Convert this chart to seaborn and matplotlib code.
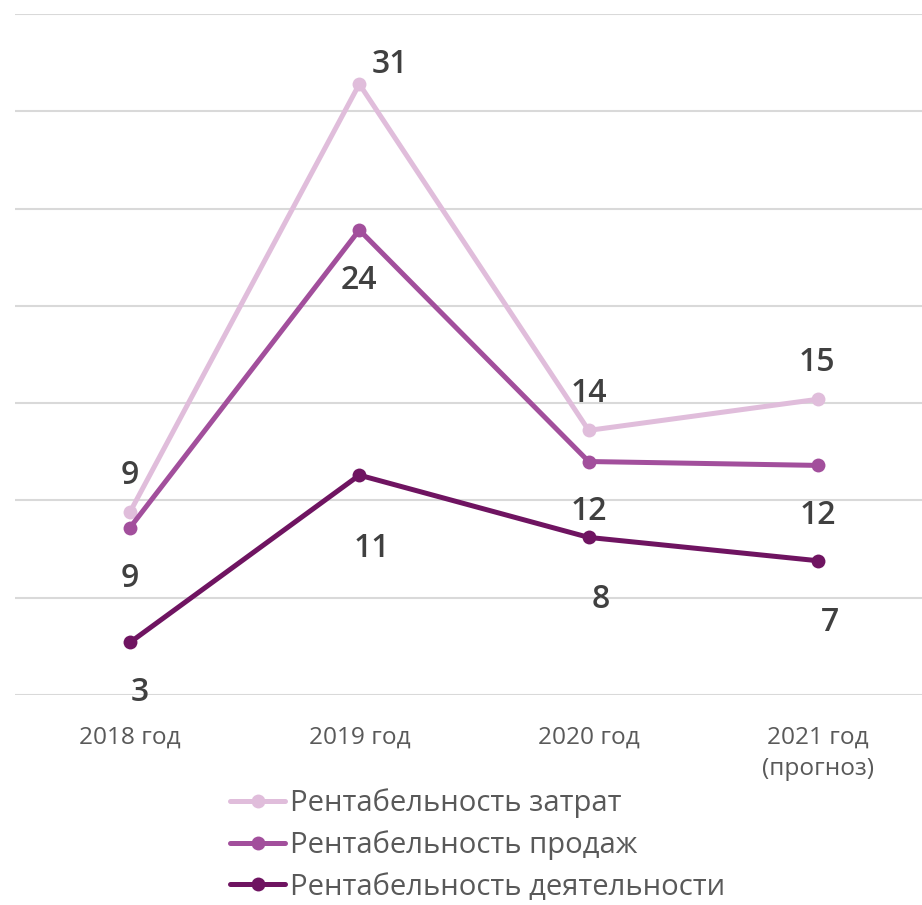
import matplotlib
matplotlib.use("Agg")
import matplotlib.pyplot as plt
import pandas as pd
import seaborn as sns

# Profitability indicators, %
years = ["2018 год", "2019 год", "2020 год", "2021 год\n(прогноз)"]
series_names = [
    "Рентабельность затрат",
    "Рентабельность продаж",
    "Рентабельность деятельности",
]
cost_margin = [9.4, 31.4, 13.6, 15.2]
sales_margin = [8.6, 23.9, 12.0, 11.8]
activity_margin = [2.7, 11.3, 8.1, 6.9]

palette = ["#e0bddb", "#a24f9c", "#6f1461"]

values = [cost_margin, sales_margin, activity_margin]
df = pd.DataFrame(
    [
        {"pos": i, "year": years[i], "series": name, "value": v}
        for name, vals in zip(series_names, values)
        for i, v in enumerate(vals)
    ]
)

sns.set_style("white")
plt.rcParams["font.family"] = ["Open Sans", "DejaVu Sans"]

W, H = 922, 905
fig = plt.figure(figsize=(W / 100, H / 100), dpi=100)
ax = fig.add_axes([15.3 / W, 210 / H, 917.4 / W, 681 / H])

sns.lineplot(
    data=df, x="pos", y="value", hue="series", hue_order=series_names,
    palette=palette, marker="o", markersize=10, markeredgewidth=0,
    linewidth=3.6, ax=ax, legend=True, zorder=3,
)

ax.set_xlim(-0.5, 3.5)
ax.set_ylim(0, 35)
ax.set_yticks(range(0, 36, 5))
ax.yaxis.grid(True, color="#d9d9d9", linewidth=1.5, zorder=0)
ax.set_axisbelow(True)
ax.tick_params(axis="y", left=False, labelleft=False)
ax.set_xticks(range(len(years)))
ax.set_xticklabels(years, fontsize=17.6, color="#595959", linespacing=1.42)
ax.tick_params(axis="x", length=0, pad=22)
ax.set_xlabel("")
ax.set_ylabel("")
for s in ax.spines.values():
    s.set_visible(False)

# value labels: pixel offsets of the label centre from each point
offsets = {
    0: [(0, -41), (31, -24), (0, -41), (-1, -41)],
    1: [(0, 47), (0, 47), (0, 46), (0, 46)],
    2: [(10, 46), (13, 69), (12, 58), (12, 58)],
}
cap_half = 12.5
for si, vals in enumerate(values):
    for i, v in enumerate(vals):
        dx, dy = offsets[si][i]
        ax.annotate(
            f"{v:.0f}", xy=(i, v), xytext=(dx, -(dy + cap_half)),
            textcoords="offset pixels", ha="center", va="baseline",
            fontsize=23, fontweight="semibold", color="#404040", zorder=5,
        )

handles, labels = ax.get_legend_handles_labels()
ax.legend(
    handles, labels, loc="center left",
    bbox_to_anchor=(230 / W, (H - 845) / H), bbox_transform=fig.transFigure,
    frameon=False, fontsize=21.1, handlelength=1.88, handletextpad=0.17,
    labelspacing=0.42, borderpad=0, borderaxespad=0, labelcolor="#595959",
)

fig.savefig("out.png", dpi=100)
